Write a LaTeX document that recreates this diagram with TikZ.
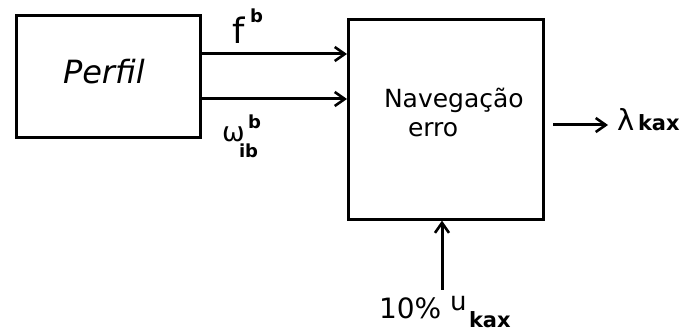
\documentclass[tikz,border=0pt]{standalone}
\usepackage{fontspec}
\setmainfont{DejaVu Sans}
\usetikzlibrary{arrows.meta}
\tikzset{
  blk/.style={draw, line width=2.6pt},
  arr/.style={line width=3pt, -{Straight Barb[length=10pt,width=14pt,line width=2.6pt]}},
  lbl/.style={inner sep=0pt, outer sep=0pt, anchor=base west},
}
\begin{document}
\begin{tikzpicture}[x=1pt,y=-1pt]
\useasboundingbox (0,0) rectangle (685,336);
% boxes
\node[blk, minimum width=184pt, minimum height=122pt, anchor=north west, inner sep=0pt] (perfil) at (15,14) {};
\node[lbl, font=\fontsize{32}{34}\selectfont\itshape] (perfiltxt) at (63,84) {Perfil};
\node[blk, minimum width=195pt, minimum height=200pt, anchor=north west, inner sep=0pt] (nav) at (347,18) {};
\node[lbl, font=\fontsize{25}{30}\selectfont] (navtxt1) at (384,108) {Navegação};
\node[lbl, font=\fontsize{25}{30}\selectfont] (navtxt2) at (408,137) {erro};
% inputs
\coordinate (f0) at (perfil.east |- 0,54);
\coordinate (f1) at (nav.west |- 0,54);
\coordinate (w0) at (perfil.east |- 0,99);
\coordinate (w1) at (nav.west |- 0,99);
\draw[arr] (f0) -- (f1);
\draw[arr] (w0) -- (w1);
\node[lbl, font=\fontsize{35}{38}\selectfont] (f) at (232,44) {f};
\node[lbl, font=\fontsize{18}{20}\selectfont\bfseries] (fb) at (250,23) {b};
\node[lbl, font=\fontsize{27}{30}\selectfont] (w) at (222,142) {ω};
\node[lbl, font=\fontsize{18}{20}\selectfont\bfseries] (wb) at (248,129) {b};
\node[lbl, font=\fontsize{18}{20}\selectfont\bfseries] (wib) at (239,158) {ib};
% output
\coordinate (o0) at (553,125);
\coordinate (o1) at (608,125);
\draw[arr] (o0) -- (o1);
\node[lbl, font=\fontsize{29}{32}\selectfont] (lam) at (617,131) {λ};
\node[lbl, font=\fontsize{21}{24}\selectfont\bfseries] (kax) at (638,131) {kax};
% bottom input
\coordinate (u0) at (442,290);
\draw[arr] (u0) -- (nav.south -| u0);
\node[lbl, font=\fontsize{28}{30}\selectfont] (pct) at (379,319) {10\%};
\node[lbl, font=\fontsize{26}{28}\selectfont] (u) at (450,311) {u};
\node[lbl, font=\fontsize{21}{24}\selectfont\bfseries] (ukax) at (469,328) {kax};
\end{tikzpicture}
\end{document}
